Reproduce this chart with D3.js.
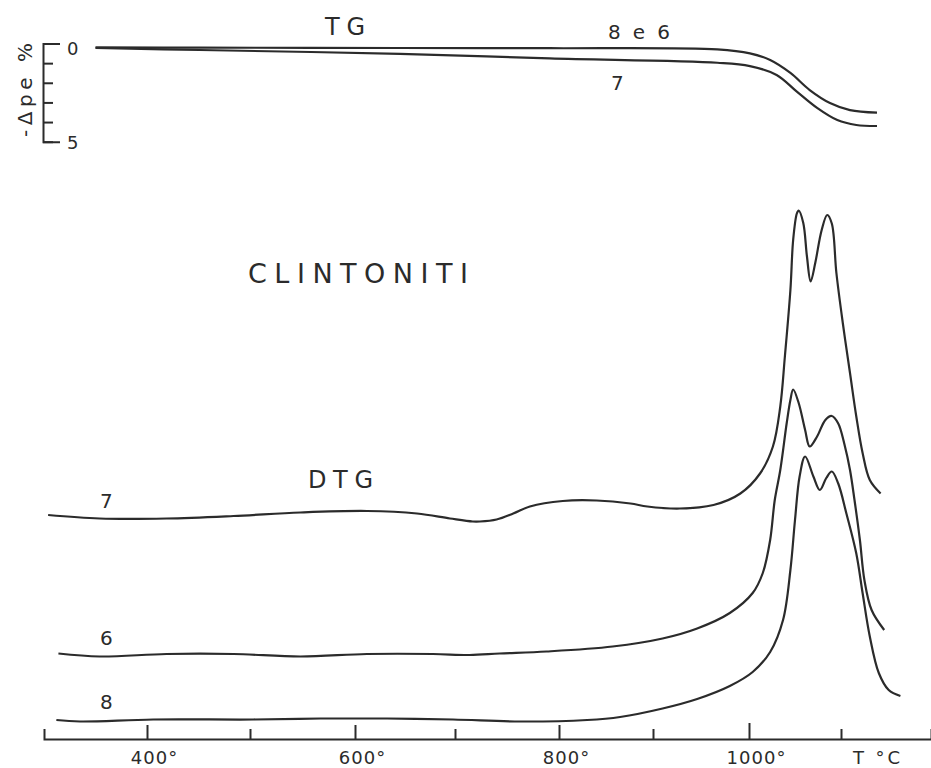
<!DOCTYPE html>
<html>
<head>
<meta charset="utf-8">
<script src="https://cdn.jsdelivr.net/npm/d3@7"></script>
<style>
  body { margin: 0; background: #fff; }
  svg { display: block; }
  text { font-family: "DejaVu Sans", sans-serif; fill: #2b2b2b; }
  .curve { fill: none; stroke: #2b2b2b; stroke-width: 2.2; }
</style>
</head>
<body>
<svg id="chart" width="931" height="768"></svg>
<script>
// temperature ticks (deg C)
const tempDomain = [300, 400, 500, 600, 700, 800, 900, 1000, 1100, 1200];
const tempTicks = [400, 500, 600, 700, 800, 900, 1000, 1100];
const tempLabels = [400, 600, 800, 1000];
const lossTicks = [0, 1, 2, 3, 4, 5];

// TG curves: [T, -delta weight %]
const tg86 = [[350, 0.20], [451, 0.21], [645, 0.23], [791, 0.24], [967, 0.30], [1001, 0.50],
  [1023, 0.84], [1045, 1.50], [1066, 2.37], [1088, 3.03], [1110, 3.39], [1140, 3.52]];
const tg7 = [[350, 0.23], [451, 0.33], [645, 0.53], [791, 0.76], [967, 0.98], [1001, 1.15],
  [1030, 1.60], [1052, 2.45], [1074, 3.28], [1096, 3.90], [1117, 4.15], [1140, 4.20]];

// DTG curves: [T, signal, arbitrary units]
const dtg7 = [[304, 45.0], [354, 44.3], [419, 44.3], [484, 44.8], [548, 45.5], [612, 45.8],
  [662, 45.3], [695, 44.3], [717, 43.7], [724, 43.7], [740, 44.1], [756, 45.3], [772, 46.7],
  [804, 47.8], [840, 47.9], [876, 47.3], [894, 46.7], [928, 46.3], [963, 47.0], [991, 49.3],
  [1012, 53.3], [1026, 58.7], [1034, 66.7], [1039, 76.7], [1045, 90.0], [1048, 100.0],
  [1052, 105.3], [1054, 105.9], [1059, 103.4], [1063, 96.7], [1067, 91.7], [1072, 95.4],
  [1079, 102.0], [1085, 105.0], [1090, 103.3], [1095, 93.4], [1102, 83.4], [1110, 73.4],
  [1117, 64.7], [1124, 57.4], [1132, 52.0], [1144, 49.3]];
const dtg6 = [[314, 17.3], [354, 16.7], [419, 17.2], [484, 17.2], [548, 16.7], [612, 17.2],
  [678, 17.2], [714, 17.0], [743, 17.3], [788, 17.7], [857, 18.7], [910, 20.3], [946, 22.3],
  [980, 25.4], [1004, 29.4], [1015, 33.4], [1023, 40.0], [1028, 48.0], [1034, 54.0],
  [1041, 63.4], [1045, 68.0], [1048, 70.1], [1054, 67.4], [1061, 62.0], [1066, 58.7],
  [1074, 60.7], [1083, 64.0], [1090, 64.8], [1097, 63.3], [1104, 59.0], [1110, 54.0],
  [1115, 48.0], [1121, 40.0], [1126, 32.0], [1134, 26.0], [1148, 22.0]];
const dtg8 = [[312, 4.0], [335, 3.7], [406, 4.1], [503, 4.1], [567, 4.3], [632, 4.3],
  [698, 4.1], [763, 3.7], [830, 4.0], [865, 4.6], [910, 6.3], [946, 8.2], [980, 10.8],
  [1004, 13.6], [1023, 17.6], [1037, 24.0], [1045, 34.0], [1050, 44.0], [1055, 52.7],
  [1061, 56.7], [1070, 52.7], [1077, 50.0], [1084, 52.4], [1090, 53.7], [1097, 51.3],
  [1106, 45.3], [1117, 37.3], [1124, 29.4], [1132, 20.7], [1142, 13.4], [1153, 10.0],
  [1166, 8.8]];

const svg = d3.select("svg#chart");

// hand drawn axis: tick spacing is not quite even
const x = d3.scaleLinear()
  .domain(tempDomain)
  .range([44, 147, 250, 355, 455, 559, 653, 749, 841, 931]);

const yTG = d3.scaleLinear().domain([0, 5]).range([43.5, 141.7]);
const yDTG = d3.scaleLinear().domain([0, 108]).range([740, 200]);

const lineTG = d3.line()
  .x(d => x(d[0]))
  .y(d => yTG(d[1]))
  .curve(d3.curveCatmullRom.alpha(0.5));

const lineDTG = d3.line()
  .x(d => x(d[0]))
  .y(d => yDTG(d[1]))
  .curve(d3.curveCatmullRom.alpha(0.5));

// TG curves
svg.selectAll("path.tg")
  .data([tg86, tg7])
  .enter()
  .append("path")
  .attr("class", "curve tg")
  .attr("d", lineTG);

// DTG curves
svg.selectAll("path.dtg")
  .data([dtg7, dtg6, dtg8])
  .enter()
  .append("path")
  .attr("class", "curve dtg")
  .attr("d", lineDTG);

// TG scale bracket
const tgAxis = d3.axisRight(yTG)
  .tickValues(lossTicks)
  .tickSizeInner(10)
  .tickSizeOuter(17)
  .tickPadding(14)
  .tickFormat(d => (d === 0 || d === 5) ? d : "");

const gTG = svg.append("g")
  .attr("transform", translate(43, 0))
  .attr("color", "#2b2b2b")
  .call(tgAxis);
gTG.select(".domain").attr("stroke-width", 2);
gTG.selectAll(".tick line").attr("stroke-width", 2);
gTG.selectAll(".tick text")
  .attr("font-family", "DejaVu Sans")
  .attr("font-size", 18)
  .attr("dy", d => d === 0 ? "0.6em" : "0.35em");

svg.append("text")
  .attr("transform", translate(32, 90) + " rotate(-90)")
  .attr("text-anchor", "middle")
  .attr("font-size", 20)
  .attr("textLength", 94)
  .attr("lengthAdjust", "spacing")
  .text("-\u0394pe %");

// temperature axis
const xAxis = d3.axisBottom(x)
  .tickValues(tempTicks)
  .tickSizeInner(-12)
  .tickSizeOuter(-10)
  .tickPadding(12)
  .tickFormat(d => tempLabels.includes(d) ? d + "\u00b0" : "");

const gX = svg.append("g")
  .attr("transform", translate(0, 739))
  .attr("color", "#2b2b2b")
  .call(xAxis);
gX.select(".domain").attr("stroke-width", 2);
gX.selectAll(".tick line")
  .attr("stroke-width", 2)
  .attr("y2", d => d === 1000 ? -16 : (tempLabels.includes(d) ? -14 : -10));
gX.selectAll(".tick text")
  .attr("font-family", "DejaVu Sans")
  .attr("font-size", 18)
  .attr("letter-spacing", 1)
  .attr("dx", 7);

svg.append("text")
  .attr("x", 853).attr("y", 764)
  .attr("font-size", 18)
  .attr("textLength", 47)
  .attr("lengthAdjust", "spacing")
  .text("T \u00b0C");

// titles and curve labels
addLabel("TG", 325, 35, 24, 40);
addLabel("8 e 6", 608, 39, 20, 62);
addLabel("7", 611, 90, 20);
addLabel("CLINTONITI", 248, 283, 27, 220);
addLabel("DTG", 308, 488, 24, 65);
addLabel("7", 100, 508, 20);
addLabel("6", 100, 645, 20);
addLabel("8", 100, 709, 20);

function addLabel(txt, lx, ly, size, len) {
  const t = svg.append("text")
    .attr("x", lx)
    .attr("y", ly)
    .attr("font-size", size)
    .text(txt);
  if (len) {
    t.attr("textLength", len).attr("lengthAdjust", "spacing");
  }
}

function translate(tx, ty) {
  return "translate(" + String(tx) + "," + String(ty) + ")";
}
</script>
</body>
</html>
